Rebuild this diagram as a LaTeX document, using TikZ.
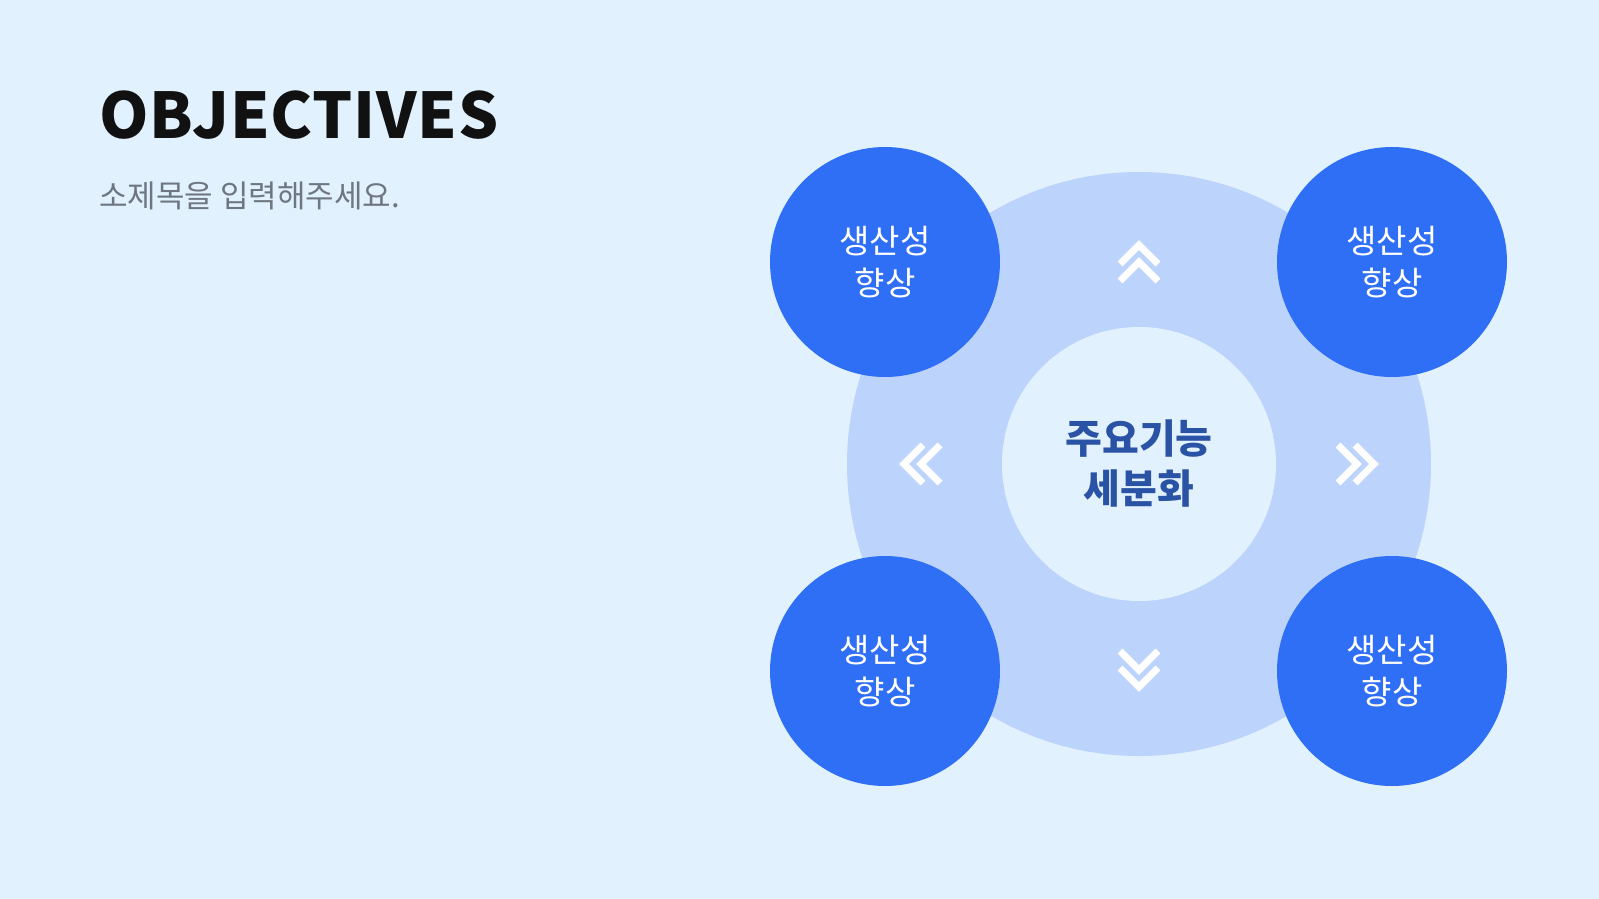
\documentclass[tikz,border=0pt]{standalone}
\usepackage{fontspec}
\setmainfont{Noto Sans CJK KR}
\newfontfamily\titlefont[LetterSpace=1.2]{Noto Sans CJK KR}
\definecolor{bgc}{HTML}{E1F1FE}
\definecolor{ringc}{HTML}{BCD3FC}
\definecolor{bluec}{HTML}{2F6FF6}
\definecolor{coretext}{HTML}{2A53A6}
\definecolor{subc}{HTML}{6E7681}
\definecolor{titlec}{HTML}{111111}
\tikzset{
  chevline/.style={draw=white, line width=7pt, line join=miter, line cap=butt},
  dchev/.pic={
    \draw[chevline] (-19,2) -- (0,-17) -- (19,2);
    \draw[chevline] (-19,19) -- (0,0) -- (19,19);
  },
  petal/.style={circle, fill=bluec, minimum size=230pt, inner sep=0pt,
    text=white, align=center, font=\fontsize{33}{42}\selectfont},
}
\begin{document}
\begin{tikzpicture}[x=1pt,y=-1pt]
\fill[bgc] (0,0) rectangle (1599,899);
\useasboundingbox (0,0) rectangle (1599,899);
\node[anchor=base west, inner sep=0pt, text=titlec, font=\titlefont\bfseries\fontsize{63}{70}\selectfont] (title) at (99,138) {OBJECTIVES};
\node[anchor=base west, inner sep=0pt, text=subc, font=\fontsize{31}{36}\selectfont] (sub) at (99,207) {소제목을 입력해주세요.};
\node[circle, fill=ringc, minimum size=584pt, inner sep=0pt] (ring) at (1139,464) {};
\node[circle, fill=bgc, minimum size=274pt, inner sep=0pt, text=coretext, align=center, font=\bfseries\fontsize{40}{50}\selectfont] (core) at (ring.center) {주요기능\\세분화};
\pic at (1139,262) {dchev};
\pic[rotate=180] at (1139,670) {dchev};
\pic[rotate=90] at (921,464) {dchev};
\pic[rotate=-90] at (1357,464) {dchev};
\node[petal] (p1) at (885,262) {생산성\\향상};
\node[petal] (p2) at (1392,262) {생산성\\향상};
\node[petal] (p3) at (885,671) {생산성\\향상};
\node[petal] (p4) at (1392,671) {생산성\\향상};
\end{tikzpicture}
\end{document}
